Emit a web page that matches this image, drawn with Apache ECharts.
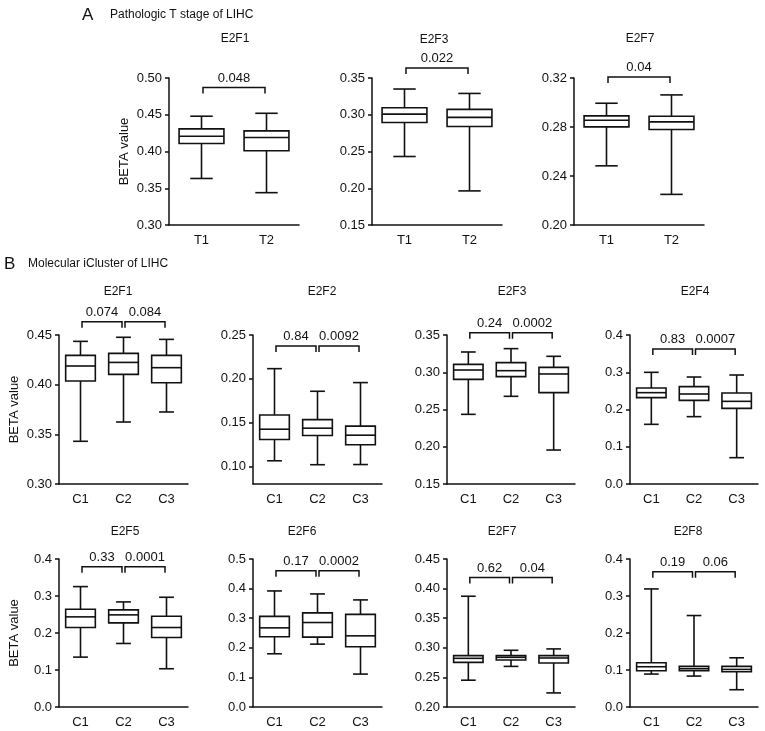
<!DOCTYPE html>
<html><head><meta charset="utf-8">
<script src="https://cdn.jsdelivr.net/npm/echarts@6/dist/echarts.min.js"></script>
<style>html,body{margin:0;padding:0;background:#fff}#c{width:765px;height:731px}</style>
</head><body><div id="c"></div>
<script>
// ---------------- DATA ----------------
const sectionTitles = ['Pathologic T stage of LIHC', 'Molecular iCluster of LIHC'];
const panelNames = ['E2F1','E2F3','E2F7','E2F1','E2F2','E2F3','E2F4','E2F5','E2F6','E2F7','E2F8'];
const tCategories = ['T1','T2'];
const cCategories = ['C1','C2','C3'];
const yAxisName = 'BETA value';
// each box: [min, Q1, median, Q3, max]
const boxA_E2F1 = [[0.3633,0.4109,0.4208,0.4308,0.4480],[0.3440,0.4010,0.4190,0.4280,0.4520]];
const boxA_E2F3 = [[0.2432,0.2895,0.3009,0.3095,0.3350],[0.1964,0.2841,0.2964,0.3073,0.3290]];
const boxA_E2F7 = [[0.2483,0.2801,0.2855,0.2891,0.2994],[0.2250,0.2779,0.2842,0.2888,0.3062]];
const boxB_E2F1 = [[0.3430,0.4037,0.4188,0.4295,0.4436],[0.3624,0.4104,0.4224,0.4315,0.4477],[0.3725,0.4020,0.4171,0.4295,0.4456]];
const boxB_E2F2 = [[0.1065,0.1308,0.1425,0.1588,0.2116],[0.1020,0.1353,0.1437,0.1535,0.1858],[0.1022,0.1247,0.1357,0.1460,0.1957]];
const boxB_E2F3 = [[0.2435,0.2905,0.3030,0.3106,0.3272],[0.2677,0.2941,0.3021,0.3129,0.3317],[0.1956,0.2726,0.2977,0.3066,0.3214]];
const boxB_E2F4 = [[0.1602,0.2318,0.2452,0.2577,0.2998],[0.1808,0.2246,0.2416,0.2613,0.2872],[0.0707,0.2031,0.2219,0.2443,0.2926]];
const boxB_E2F5 = [[0.1348,0.2148,0.2436,0.2643,0.3254],[0.1717,0.2274,0.2490,0.2625,0.2840],[0.1034,0.1879,0.2148,0.2454,0.2966]];
const boxB_E2F6 = [[0.1798,0.2371,0.2674,0.3060,0.3921],[0.2124,0.2360,0.2854,0.3180,0.3820],[0.1112,0.2034,0.2404,0.3130,0.3618]];
const boxB_E2F7 = [[0.2453,0.2754,0.2822,0.2867,0.3871],[0.2686,0.2794,0.2839,0.2867,0.2958],[0.2238,0.2743,0.2828,0.2867,0.2981]];
const boxB_E2F8 = [[0.0890,0.0980,0.1088,0.1195,0.3191],[0.0836,0.0980,0.1034,0.1097,0.2472],[0.0467,0.0953,0.1016,0.1097,0.1330]];
// p-values of the comparisons (T1 vs T2; C1 vs C2, C2 vs C3)
const pValues = [['0.048'],['0.022'],['0.04'],['0.074','0.084'],['0.84','0.0092'],['0.24','0.0002'],['0.83','0.0007'],['0.33','0.0001'],['0.17','0.0002'],['0.62','0.04'],['0.19','0.06']];
// height (in data units) of the comparison bracket
const bracketY = [0.487, 0.3636, 0.3208, 0.4634, 0.2375, 0.3531, 0.3624, 0.3793, 0.4607, 0.4188, 0.3658];
// y axis ticks
const yMin  = [0.30, 0.15, 0.20, 0.30, 0.08, 0.15, 0.0, 0.0, 0.0, 0.20, 0.0];
const yMax  = [0.50, 0.35, 0.32, 0.45, 0.25, 0.35, 0.4, 0.4, 0.5, 0.45, 0.4];
const yStep = [0.05, 0.05, 0.04, 0.05, 0.05, 0.05, 0.1, 0.1, 0.1, 0.05, 0.1];
const yTickValuesE2F2 = [0.10, 0.15, 0.20, 0.25];
const yDecimals = [2, 2, 2, 2, 2, 2, 1, 1, 1, 2, 1];

const boxes = [boxA_E2F1, boxA_E2F3, boxA_E2F7, boxB_E2F1, boxB_E2F2, boxB_E2F3, boxB_E2F4, boxB_E2F5, boxB_E2F6, boxB_E2F7, boxB_E2F8];

// ---------------- LAYOUT ----------------
const FONT = "'Liberation Sans', Arial, Helvetica, sans-serif";
const INK = '#111';
const gridLeft   = [169, 372, 574, 59, 253, 447, 630, 59, 253, 447, 630];
const gridWidth  = [130, 130, 130, 129, 129, 128, 128, 129, 129, 128, 128];
const gridTop    = [78, 78, 78, 335, 335, 335, 335, 559, 559, 559, 559];
const gridHeight = [147, 147, 147, 149, 149, 149, 149, 148, 148, 148, 148];
const titlePos = [[235,39],[434,40],[640,39],[118,292],[322,292],[512,292],[695,292],[125,532],[302,532],[502,532],[688,532]];
const showYName = [true, false, false, true, false, false, false, true, false, false, false];

function renderBox(params, api) {
  const x = api.value(0);
  const p = [1,2,3,4,5].map(i => api.coord([x, api.value(i)]));
  const cx = p[0][0];
  const band = api.size([1, 0])[0];
  const bw = band * 0.69, cw = bw / 2;
  const yLo = p[0][1], yQ1 = p[1][1], yMed = p[2][1], yQ3 = p[3][1], yHi = p[4][1];
  const st = {stroke: INK, lineWidth: 1.6, fill: null};
  return {type: 'group', children: [
    {type: 'line', shape: {x1: cx, y1: yQ3, x2: cx, y2: yHi}, style: st},
    {type: 'line', shape: {x1: cx, y1: yQ1, x2: cx, y2: yLo}, style: st},
    {type: 'line', shape: {x1: cx - cw/2, y1: yHi, x2: cx + cw/2, y2: yHi}, style: st},
    {type: 'line', shape: {x1: cx - cw/2, y1: yLo, x2: cx + cw/2, y2: yLo}, style: st},
    {type: 'rect', shape: {x: cx - bw/2, y: yQ3, width: bw, height: yQ1 - yQ3}, style: {stroke: INK, lineWidth: 1.6, fill: '#fff'}},
    {type: 'line', shape: {x1: cx - bw/2, y1: yMed, x2: cx + bw/2, y2: yMed}, style: st}
  ]};
}

function makeBracketRenderer(panel) {
  return function (params, api) {
    const y = api.value(2);
    const a = api.coord([api.value(0), y]);
    const b = api.coord([api.value(1), y]);
    const x1 = a[0] + 1.5, x2 = b[0] - 1.5, py = a[1], drop = 6;
    const st = {stroke: INK, lineWidth: 1.5, fill: null};
    return {type: 'group', children: [
      {type: 'polyline', shape: {points: [[x1, py + drop], [x1, py], [x2, py], [x2, py + drop]]}, style: st},
      {type: 'text', x: (a[0] + b[0]) / 2, y: py - 3,
       style: {text: pValues[panel][params.dataIndex], align: 'center', verticalAlign: 'bottom',
               textAlign: 'center', textVerticalAlign: 'bottom',
               font: '13px ' + FONT, fill: INK}}
    ]};
  };
}

const grids = [], xAxes = [], yAxes = [], series = [];
boxes.forEach((bx, i) => {
  const cats = i < 3 ? tCategories : cCategories;
  grids.push({left: gridLeft[i], top: gridTop[i], width: gridWidth[i], height: gridHeight[i], containLabel: false});
  xAxes.push({
    type: 'category', gridIndex: i, data: cats, boundaryGap: true,
    axisLine: {lineStyle: {color: INK, width: 1.5}},
    axisTick: {alignWithLabel: true, length: 4, lineStyle: {color: INK, width: 1.5}},
    axisLabel: {color: INK, fontSize: 13, fontFamily: FONT, margin: 9},
    splitLine: {show: false}
  });
  const dec = yDecimals[i];
  const ya = {
    type: 'value', gridIndex: i, min: yMin[i], max: yMax[i],
    axisLine: {show: true, lineStyle: {color: INK, width: 1.5}},
    axisTick: {show: true, length: 4, lineStyle: {color: INK, width: 1.5}},
    axisLabel: {color: INK, fontSize: 13, fontFamily: FONT, margin: 7, formatter: v => v.toFixed(dec)},
    splitLine: {show: false}
  };
  if (i === 4) {
    ya.axisLabel.customValues = yTickValuesE2F2;
    ya.axisTick.customValues = yTickValuesE2F2;
  } else {
    ya.interval = yStep[i];
  }
  if (showYName[i]) {
    ya.name = yAxisName; ya.nameLocation = 'middle'; ya.nameGap = 38;
    ya.nameTextStyle = {color: INK, fontSize: 13, fontFamily: FONT};
  }
  yAxes.push(ya);
  series.push({
    type: 'custom', xAxisIndex: i, yAxisIndex: i, renderItem: renderBox,
    encode: {x: 0, y: [1, 2, 3, 4, 5]},
    data: bx.map((v, k) => [k].concat(v)), silent: true, clip: false
  });
  const bData = cats.length === 2 ? [[0, 1, bracketY[i]]] : [[0, 1, bracketY[i]], [1, 2, bracketY[i]]];
  series.push({
    type: 'custom', xAxisIndex: i, yAxisIndex: i, renderItem: makeBracketRenderer(i),
    encode: {x: [0, 1], y: 2}, data: bData, silent: true, clip: false
  });
});

const graphics = [
  {type: 'text', x: 82, y: 15, style: {text: 'A', font: '17px ' + FONT, fill: INK, verticalAlign: 'middle', textVerticalAlign: 'middle'}},
  {type: 'text', x: 110, y: 15, style: {text: sectionTitles[0], font: '12px ' + FONT, fill: INK, verticalAlign: 'middle', textVerticalAlign: 'middle'}},
  {type: 'text', x: 4, y: 264, style: {text: 'B', font: '17px ' + FONT, fill: INK, verticalAlign: 'middle', textVerticalAlign: 'middle'}},
  {type: 'text', x: 28, y: 264, style: {text: sectionTitles[1], font: '12px ' + FONT, fill: INK, verticalAlign: 'middle', textVerticalAlign: 'middle'}}
];
panelNames.forEach((n, i) => {
  graphics.push({type: 'text', x: titlePos[i][0], y: titlePos[i][1],
    style: {text: n, font: '12px ' + FONT, fill: INK, align: 'center', verticalAlign: 'middle', textAlign: 'center', textVerticalAlign: 'middle'}});
});

const chart = echarts.init(document.getElementById('c'), null, {renderer: 'canvas'});
chart.setOption({
  animation: false,
  backgroundColor: '#fff',
  grid: grids, xAxis: xAxes, yAxis: yAxes, series: series, graphic: graphics
});
</script></body></html>
